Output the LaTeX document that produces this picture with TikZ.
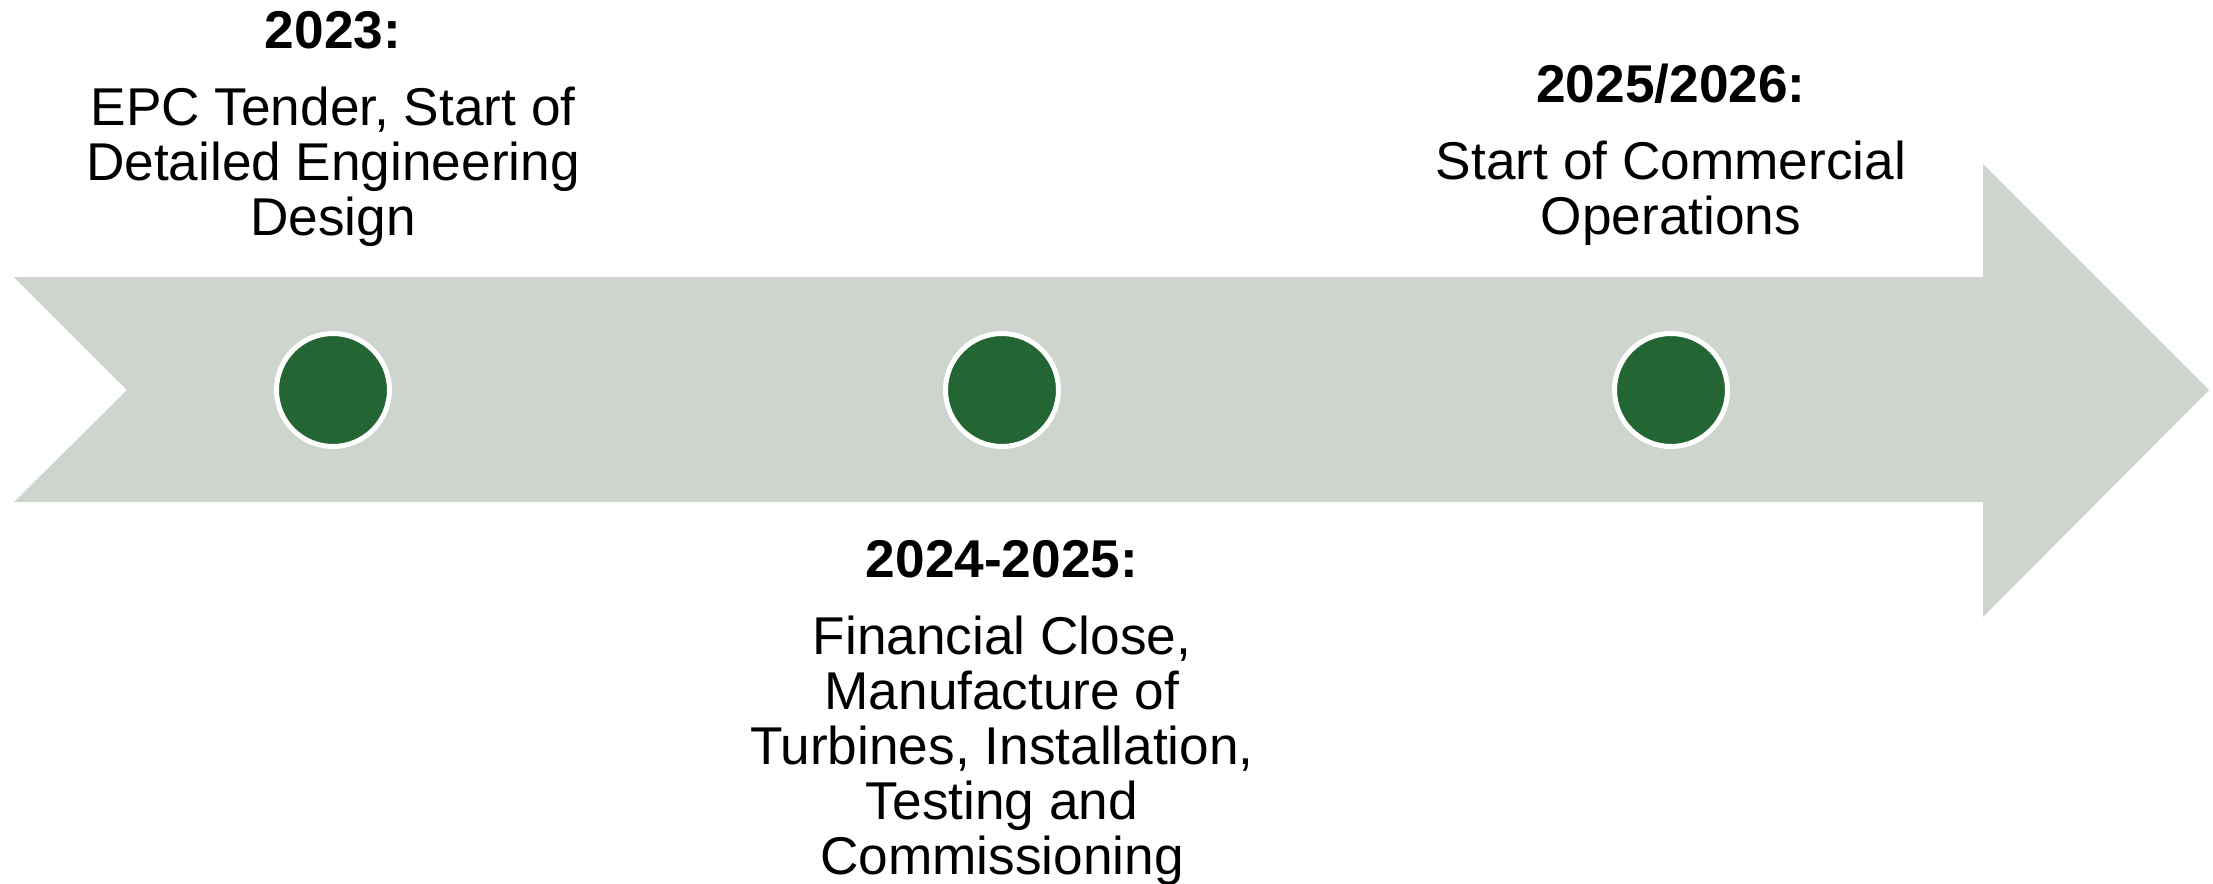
\documentclass[tikz,border=0pt]{standalone}
\usepackage{fontspec}
\setmainfont{Liberation Sans}
\definecolor{barfill}{HTML}{CDD5CE}
\definecolor{dotgreen}{HTML}{246534}

\begin{document}
\begin{tikzpicture}[x=0.5pt, y=-0.5pt,
    dot/.style={circle, fill=dotgreen, draw=white, line width=2.5pt, minimum size=56.5pt, inner sep=0pt},
    milestone/.style={align=center, anchor=base, inner sep=0pt, font=\fontsize{26.6pt}{27.5pt}\selectfont}]
    \useasboundingbox (0,0) rectangle (2213,884);
    % timeline arrow
    \fill[barfill] (14,277) -- (1983,277) -- (1983,164) -- (2209,390) -- (1983,617)
        -- (1983,502) -- (14,502) -- (127,390) -- cycle;

    \node[dot] (d1) at (333,390) {};
    \node[dot] (d2) at (1002,390) {};
    \node[dot] (d3) at (1671,390) {};

    % base anchor sits on the last line
    \node[milestone] (m1) at (333,235) {\textbf{2023:}\\[11pt] EPC Tender, Start of\\ Detailed Engineering\\ Design};
    \node[milestone] (m2) at (1002,874) {\textbf{2024-2025:}\\[11pt] Financial Close,\\ Manufacture of\\ Turbines, Installation,\\ Testing and\\ Commissioning};
    \node[milestone] (m3) at (1671,234) {\textbf{2025/2026:}\\[11pt] Start of Commercial\\ Operations};
\end{tikzpicture}
\end{document}
